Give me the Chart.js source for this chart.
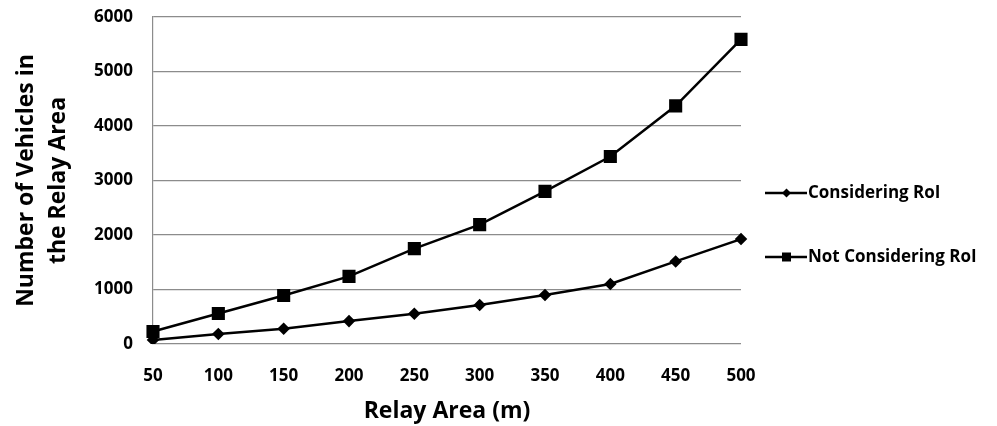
<!DOCTYPE html>
<html>
<head>
<meta charset="utf-8">
<script src="https://cdn.jsdelivr.net/npm/chart.js@4"></script>
<style>
  html, body { margin:0; padding:0; background:#fff; }
  #wrap { width:997px; height:426px; }
</style>
</head>
<body>
<div id="wrap"><canvas id="relayChart" width="997" height="426"></canvas></div>
<script>
//------------------------------------
// Data
//------------------------------------
const relayArea = ["50","100","150","200","250","300","350","400","450","500"];

const consideringRoI = [75,185,280,420,555,715,900,1100,1515,1925];

const notConsideringRoI = [230,560,890,1240,1750,2190,2800,3440,4370,5590];

const seriesLabels = ["Considering RoI","Not Considering RoI"];

const xTitle = "Relay Area (m)";
const yTitle = ["Number of Vehicles in","the Relay Area"];

const FONT = "'Open Sans', 'Noto Sans', sans-serif";

//------------------------------------
// Legend on the right (line + marker)
//------------------------------------
const sideLegend = {
    id:"sideLegend",
    afterDraw(chart){
        const ctx = chart.ctx;
        const rows = [193,257];
        chart.data.datasets.forEach(function(ds,i){
            const y = rows[i];
            ctx.save();
            ctx.strokeStyle = "#000";
            ctx.lineWidth = 2.5;
            ctx.beginPath();
            ctx.moveTo(765,y);
            ctx.lineTo(807,y);
            ctx.stroke();
            ctx.fillStyle = "#000";
            ctx.beginPath();
            if(ds.pointStyle === "rect"){
                ctx.rect(782,y-4.5,9,9);
            } else {
                ctx.moveTo(786.5,y-4.5);
                ctx.lineTo(791,y);
                ctx.lineTo(786.5,y+4.5);
                ctx.lineTo(782,y);
                ctx.closePath();
            }
            ctx.fill();
            ctx.font = "bold 17px " + FONT;
            ctx.textBaseline = "middle";
            ctx.textAlign = "left";
            ctx.fillText(ds.label,808,y);
            ctx.restore();
        });
    }
};

const relayChart = new Chart(
    document.getElementById("relayChart"),
    {
        type:"line",
        data:{
            labels:relayArea,
            datasets:[
                {
                    label:seriesLabels[0],
                    data:consideringRoI,
                    borderColor:"#000",
                    backgroundColor:"#000",
                    borderWidth:2.5,
                    pointStyle:"rectRot",
                    pointRadius:4.5,
                    pointHoverRadius:4.5,
                    tension:0
                },
                {
                    label:seriesLabels[1],
                    data:notConsideringRoI,
                    borderColor:"#000",
                    backgroundColor:"#000",
                    borderWidth:2.5,
                    pointStyle:"rect",
                    pointRadius:7.5,
                    pointHoverRadius:7.5,
                    tension:0
                }
            ]
        },
        options:{
            responsive:false,
            animation:false,
            layout:{ padding:{ top:17, right:256, bottom:0, left:0 } },
            plugins:{
                legend:{ display:false },
                tooltip:{ enabled:false }
            },
            scales:{
                x:{
                    offset:false,
                    grid:{ display:false },
                    border:{ display:false },
                    ticks:{
                        color:"#000",
                        padding:14,
                        maxRotation:0,
                        font:{ family:FONT, size:17, weight:"bold" }
                    },
                    title:{
                        display:true,
                        text:xTitle,
                        color:"#000",
                        padding:{ top:4, bottom:1 },
                        font:{ family:FONT, size:23, weight:"bold" }
                    },
                    afterFit(scale){ scale.height = 82; }
                },
                y:{
                    min:0,
                    max:6000,
                    ticks:{
                        stepSize:1000,
                        color:"#000",
                        padding:20,
                        font:{ family:FONT, size:17, weight:"bold" },
                        callback:function(v){ return String(v); }
                    },
                    grid:{
                        color:"#8c8c8c",
                        lineWidth:1.2,
                        drawTicks:false
                    },
                    border:{ display:true, color:"#8c8c8c", width:1.2 },
                    title:{
                        display:true,
                        text:yTitle,
                        color:"#000",
                        padding:{ top:10, bottom:8 },
                        font:{ family:FONT, size:23, weight:"bold", lineHeight:1.4 }
                    },
                    afterFit(scale){
                        scale.width = 153;
                        scale.paddingTop = 0;
                        scale.paddingBottom = 0;
                    }
                }
            }
        },
        plugins:[sideLegend]
    }
);
</script>
</body>
</html>
